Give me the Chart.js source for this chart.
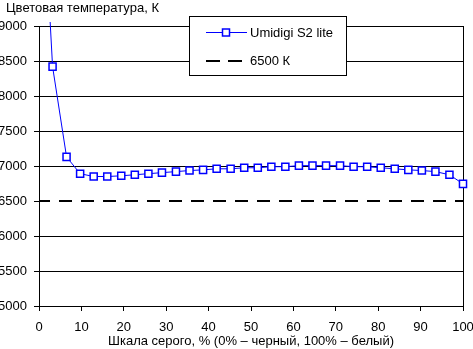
<!DOCTYPE html>
<html>
<head>
<meta charset="utf-8">
<script src="https://cdn.jsdelivr.net/npm/chart.js@4.4.1/dist/chart.umd.min.js"></script>
<style>
  html, body { margin: 0; padding: 0; background: #fff; overflow: hidden; }
  canvas { display: block; }
</style>
</head>
<body>
<canvas id="tempChart" width="473" height="349"></canvas>
<script>
// Шкала серого, %
const grayLevels = [0, 3.2, 6.5, 9.7, 12.9, 16.1, 19.4, 22.6, 25.8, 29, 32.3, 35.5, 38.7, 41.9, 45.2, 48.4,
    51.6, 54.8, 58.1, 61.3, 64.5, 67.7, 71, 74.2, 77.4, 80.6, 83.9, 87.1, 90.3, 93.5, 96.8, 100]
// Цветовая температура, К
const colorTemp = [12000, 8420, 7130, 6890, 6850, 6850, 6860, 6875, 6890, 6905, 6920, 6935, 6945, 6960, 6960, 6975,
    6975, 6990, 6990, 7005, 7005, 7005, 7005, 6990, 6990, 6975, 6960, 6945, 6935, 6920, 6875, 6745]
const refX = [0, 100]
const refTemp = [6500, 6500]

const seriesName = 'Umidigi S2 lite'
const refName = '6500 К'
const yTitle = 'Цветовая температура, К'
const xTitle = 'Шкала серого, % (0% – черный, 100% – белый)'

Chart.defaults.font.family = '"Liberation Sans", Arial, sans-serif'
Chart.defaults.font.size = 13
Chart.defaults.color = '#000'

// axis caption at the top left + legend drawn as a boxed panel over the grid
const boxLegend = {
    id: 'boxLegend',
    afterDraw(chart) {
        const ctx = chart.ctx
        const ds = chart.data.datasets
        ctx.save()
        ctx.fillStyle = '#000'
        ctx.font = '13px "Liberation Sans", Arial, sans-serif'
        ctx.textBaseline = 'middle'
        ctx.textAlign = 'left'
        ctx.fillText(yTitle, 6, 8)

        ctx.fillStyle = '#fff'
        ctx.fillRect(189.5, 16.5, 157, 59)
        ctx.strokeStyle = '#000'
        ctx.lineWidth = 1
        ctx.strokeRect(189.5, 16.5, 157, 59)

        // series line + marker
        ctx.strokeStyle = ds[0].borderColor
        ctx.lineWidth = ds[0].borderWidth
        ctx.beginPath()
        ctx.moveTo(206, 32.5)
        ctx.lineTo(247, 32.5)
        ctx.stroke()
        ctx.fillStyle = '#fff'
        ctx.fillRect(222.5, 29, 7, 7)
        ctx.lineWidth = 1.5
        ctx.strokeRect(222.5, 29, 7, 7)

        // reference dashes
        ctx.strokeStyle = ds[1].borderColor
        ctx.lineWidth = ds[1].borderWidth
        ctx.setLineDash([14, 8])
        ctx.beginPath()
        ctx.moveTo(206, 61)
        ctx.lineTo(242, 61)
        ctx.stroke()
        ctx.setLineDash([])

        ctx.fillStyle = '#000'
        ctx.fillText(ds[0].label, 250, 33)
        ctx.fillText(ds[1].label, 250, 61.5)
        ctx.restore()
    }
}

const ctx = document.getElementById('tempChart').getContext('2d')
new Chart(ctx, {
    type: 'line',
    data: {
        datasets: [{
            label: seriesName,
            data: grayLevels.map((x, i) => ({ x: x, y: colorTemp[i] })),
            borderColor: '#0000ff',
            borderWidth: 1,
            pointStyle: 'rect',
            pointRadius: 5,
            pointBorderWidth: 1.5,
            pointBackgroundColor: '#fff',
            pointBorderColor: '#0000ff',
            tension: 0,
            clip: { left: 5, top: 4, right: 6, bottom: 5 }
        }, {
            label: refName,
            data: refX.map((x, i) => ({ x: x, y: refTemp[i] })),
            borderColor: '#000',
            borderWidth: 2,
            borderDash: [13, 9],
            borderDashOffset: 2,
            pointRadius: 0,
            order: 1
        }]
    },
    options: {
        responsive: false,
        animation: false,
        layout: { padding: { left: 0, right: 10, top: 26, bottom: 0 } },
        plugins: {
            legend: { display: false },
            tooltip: { enabled: false },
            title: { display: false }
        },
        scales: {
            x: {
                type: 'linear',
                min: 0,
                max: 100,
                afterFit: (scale) => {
                    scale.height = 43
                    scale.paddingLeft = 0
                    scale.paddingRight = 0
                },
                ticks: { stepSize: 10, padding: 9, maxRotation: 0 },
                grid: {
                    color: (c) => c.tick && c.tick.value === 100 ? '#000' : 'rgba(0,0,0,0)',
                    tickColor: '#000',
                    tickLength: 5
                },
                border: { color: '#000', width: 1 },
                title: {
                    display: true,
                    text: xTitle,
                    padding: { top: 0, bottom: 0 }
                }
            },
            y: {
                min: 5000,
                max: 9000,
                afterFit: (scale) => { scale.width = 39 },
                ticks: { stepSize: 500, padding: 7, callback: (v) => String(v) },
                grid: {
                    color: (c) => c.tick && c.tick.value === 6500 ? 'rgba(0,0,0,0)' : '#000',
                    tickColor: '#000',
                    tickLength: 5
                },
                border: { color: '#000', width: 1 }
            }
        }
    },
    plugins: [boxLegend]
})
</script>
</body>
</html>
